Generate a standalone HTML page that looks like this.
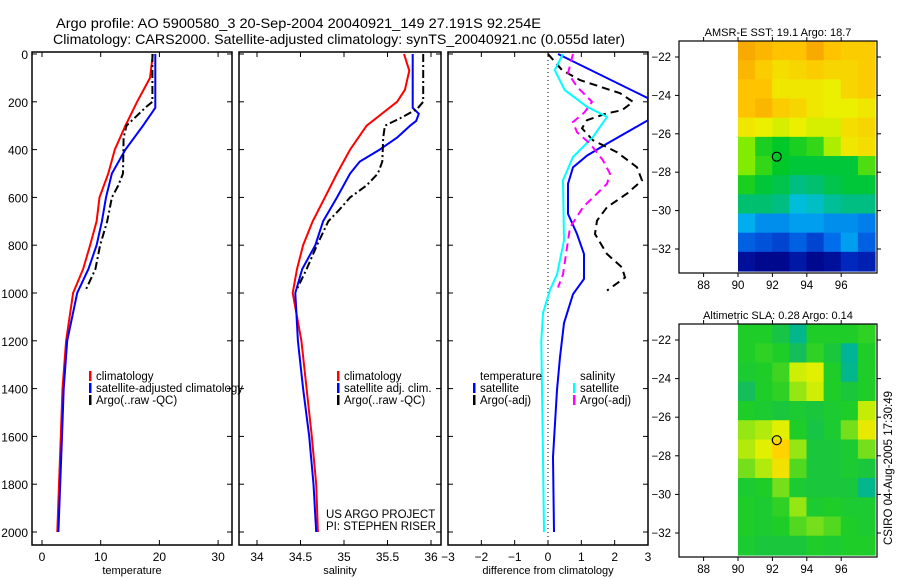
<!DOCTYPE html>
<html><head><meta charset="utf-8"><style>
body{margin:0;background:#fff;}
svg{display:block;font-family:"Liberation Sans",sans-serif;}
text{fill:#000;}
</style></head><body>
<svg id="chart" width="900" height="580" viewBox="0 0 900 580" xmlns="http://www.w3.org/2000/svg">
<text x="56" y="28" font-size="14" textLength="485" lengthAdjust="spacingAndGlyphs">Argo profile: AO 5900580_3 20-Sep-2004 20040921_149 27.191S 92.254E</text>
<text x="53" y="44" font-size="14" textLength="572" lengthAdjust="spacingAndGlyphs">Climatology: CARS2000. Satellite-adjusted climatology: synTS_20040921.nc (0.055d later)</text>
<g id="g"></g>
</svg>
<script>
// ---- data ----
const tClimDepth=[0,100,200,300,400,500,600,700,800,900,1000,1200,1400,1600,1800,2000];
const tClimVal=[18.9,18.4,16.2,14.2,12.4,11.3,9.8,9.3,8.2,7.0,5.3,4.1,3.5,3.2,2.9,2.6];
const tSatDepth=[0,225,300,400,500,600,700,800,900,1000,1200,1400,1600,1800,2000];
const tSatVal=[19.3,19.3,17.2,14.2,11.9,10.9,10.2,9.3,7.9,6.0,4.3,3.7,3.4,3.1,2.8];
const tArgoDepth=[0,200,220,300,350,500,550,600,700,800,900,990];
const tArgoVal=[18.8,18.8,17.8,14.4,13.9,13.8,13.0,11.9,11.1,9.9,9.1,7.4];

const sClimDepth=[0,70,150,200,300,400,500,600,700,800,900,1000,1200,1400,1600,1800,2000];
const sClimVal=[35.69,35.75,35.70,35.61,35.26,35.07,34.92,34.78,34.64,34.53,34.46,34.41,34.51,34.57,34.63,34.68,34.70];
const sSatDepth=[0,225,250,280,300,350,400,450,500,600,700,800,900,1000,1200,1400,1600,1800,2000];
const sSatVal=[35.79,35.79,35.86,35.83,35.76,35.61,35.41,35.18,35.07,34.92,34.76,34.67,34.52,34.44,34.47,34.53,34.60,34.65,34.68];
const sArgoDepth=[0,200,230,270,300,350,450,500,550,600,650,700,800,900,990];
const sArgoVal=[35.91,35.91,35.84,35.64,35.47,35.45,35.44,35.39,35.26,35.07,34.95,34.82,34.69,34.57,34.45];

const dTSatDepth=[0,185,277,375,425,474,543,669,753,837,941,1005,1126,1268,1406,1686,2000];
const dTSatVal=[0.3,3.0,3.0,1.77,1.17,0.75,0.6,0.6,0.87,1.08,1.08,0.75,0.48,0.36,0.27,0.15,0.18];
const dTArgoDepth=[0,67,109,164,200,235,248,277,311,361,411,474,529,584,641,697,753,837,893,935,990];
const dTArgoVal=[0,0.42,0.96,2.16,2.55,2.22,1.77,1.17,1.02,1.35,2.07,2.67,2.82,2.37,1.77,1.47,1.41,1.77,2.22,2.31,1.77];
const dSSatDepth=[0,67,151,221,263,347,431,528,780,922,987,1084,1200,1686,2000];
const dSSatVal=[0.45,0.2,0.5,1.17,1.77,1.35,0.75,0.45,0.48,0.27,0.06,-0.15,-0.2,-0.15,-0.12];
const dSArgoDepth=[0,80,137,200,243,285,327,375,445,501,543,641,726,810,922,977];
const dSArgoVal=[0.75,0.6,0.87,1.32,1.1,0.75,0.87,1.26,1.65,1.86,1.77,1.05,0.66,0.57,0.45,0.3];

const depthTicks=[0,200,400,600,800,1000,1200,1400,1600,1800,2000];
const tempTicks=[0,10,20,30];
const salTicks=[34,34.5,35,35.5,36];
const diffTicks=[-3,-2,-1,0,1,2,3];
const latTicks=[-22,-24,-26,-28,-30,-32];
const lonTicks=[88,90,92,94,96];

const sstGrid=[
[20.2,20.1,20.0,20.0,20.2,20.0,19.9,19.9],
[20.1,19.9,19.7,19.8,19.9,19.8,19.8,19.9],
[20.0,20.0,19.6,19.6,19.6,19.5,19.8,19.9],
[20.0,20.1,19.9,19.8,19.6,19.5,19.5,19.6],
[19.6,19.5,19.4,19.5,19.4,19.4,19.7,19.8],
[19.0,18.6,18.5,18.6,18.7,19.2,19.6,19.7],
[19.0,18.7,18.5,18.4,18.4,18.4,18.4,18.8],
[18.6,18.4,18.3,18.0,18.1,18.3,18.4,18.4],
[18.1,18.1,18.0,17.6,17.7,17.9,18.0,18.0],
[17.4,17.2,17.2,17.3,17.3,17.2,17.2,17.1],
[16.9,16.8,16.7,16.9,16.7,17.0,17.3,16.9],
[16.2,16.1,16.1,16.3,16.1,16.2,16.5,16.4]];
const slaGrid=[
[.05,.05,.02,-.05,.05,.05,.05,.06],
[.05,.06,.05,.0,.06,.03,-.06,.05],
[.04,.05,.07,.18,.2,.05,-.05,.05],
[.0,.05,.06,.12,.18,.05,.03,.05],
[.05,.04,.03,.04,.03,.04,.05,.17],
[.12,.15,.2,.05,.02,.04,.1,.22],
[.15,.2,.3,.12,.03,.03,.04,.1],
[.1,.15,.25,.08,.03,.03,.04,.03],
[.04,.05,.1,.04,.03,.03,.03,-.05],
[.05,.04,.06,.12,.04,.05,.04,.04],
[.05,.04,.05,.08,.1,.08,.05,.04],
[.04,.03,.03,.03,.05,.04,.05,.05]];
const floatLon=92.254, floatLat=-27.191;

// ---- helpers ----
const NS="http://www.w3.org/2000/svg";
const G=document.getElementById('g');
function el(tag,attrs,parent){const e=document.createElementNS(NS,tag);for(const k in attrs)e.setAttribute(k,attrs[k]);(parent||G).appendChild(e);return e;}
const yD=d=>54+d*0.239;
const panels=[
 {name:'temperature',x0:32,x1:232,sx:v=>42+v*5.87,ticks:tempTicks,label:'temperature',lab:v=>String(v)},
 {name:'salinity',x0:239,x1:441,sx:v=>257+(v-34)*87,ticks:salTicks,label:'salinity',lab:v=>String(v)},
 {name:'difference',x0:448,x1:648,sx:v=>548+v*33.33,ticks:diffTicks,label:'difference from climatology',lab:v=>String(v).replace('-','−')}
];
const yTop=52,yBot=545;
panels.forEach((p,i)=>{
  const gp=el('g',{});
  
  
  const cp=el('clipPath',{id:'clip'+i},gp);
  el('rect',{x:p.x0,y:yTop,width:p.x1-p.x0,height:yBot-yTop},cp);
  const fr=el('rect',{x:p.x0,y:yTop,width:p.x1-p.x0,height:yBot-yTop,fill:'none',stroke:'#000','stroke-width':1.5},gp);
  
  
  depthTicks.forEach(d=>{const y=yD(d);
    el('line',{x1:p.x0,x2:p.x0+5,y1:y,y2:y,stroke:'#000'},gp);
    el('line',{x1:p.x1-5,x2:p.x1,y1:y,y2:y,stroke:'#000'},gp);
    if(i===0){const t=el('text',{x:28,y:y+5,'font-size':12,'text-anchor':'end'},gp);t.textContent=d;
      
      }
  });
  p.ticks.forEach(v=>{const x=p.sx(v);
    el('line',{x1:x,x2:x,y1:yTop,y2:yTop+5,stroke:'#000'},gp);
    el('line',{x1:x,x2:x,y1:yBot-5,y2:yBot,stroke:'#000'},gp);
    const t=el('text',{x:x,y:561,'font-size':12,'text-anchor':'middle'},gp);t.textContent=p.lab(v);
    
    
  });
  const al=el('text',{x:(p.x0+p.x1)/2,y:574,'font-size':11,'text-anchor':'middle'},gp);al.textContent=p.label;
  
  
  p.g=el('g',{'clip-path':'url(#clip'+i+')'},gp);
});
function series(pi,depths,vals,color,dash,name){
  const p=panels[pi];
  const pts=depths.map((d,k)=>p.sx(vals[k]).toFixed(1)+','+yD(d).toFixed(1)).join(' ');
  const l=el('polyline',{points:pts,fill:'none',stroke:color,'stroke-width':2,'stroke-dasharray':dash||'none'},p.g);
  
  
}
series(0,tClimDepth,tClimVal,'#f00',null,'temp-climatology-line');
series(0,tSatDepth,tSatVal,'#00f',null,'temp-satellite-line');
series(0,tArgoDepth,tArgoVal,'#000','8,3,2,3','temp-argo-line');
series(1,sClimDepth,sClimVal,'#f00',null,'sal-climatology-line');
series(1,sSatDepth,sSatVal,'#00f',null,'sal-satellite-line');
series(1,sArgoDepth,sArgoVal,'#000','8,3,2,3','sal-argo-line');
const zl=el('line',{x1:panels[2].sx(0),x2:panels[2].sx(0),y1:yTop,y2:yBot,stroke:'#000','stroke-dasharray':'1,3'},panels[2].g);


series(2,dTSatDepth,dTSatVal,'#00f',null,'diff-temp-satellite-line');
series(2,dTArgoDepth,dTArgoVal,'#000','8,5','diff-temp-argo-line');
series(2,dSSatDepth,dSSatVal,'#0ff',null,'diff-sal-satellite-line');
series(2,dSArgoDepth,dSArgoVal,'#f0f','8,5','diff-sal-argo-line');

function legend(name,x,y,items){
  const lg=el('g',{});
  
  
  items.forEach((it,k)=>{const yy=y+k*12;
    if(it[1]){el('rect',{x:x,y:yy-9,width:2.5,height:10,fill:it[1]},lg);}
    const t=el('text',{x:x+7,y:yy,'font-size':11.5},lg);t.textContent=it[0];
    
    
  });
}
legend('temperature-legend',89,380,[['climatology','#f00'],['satellite-adjusted climatology','#00f'],['Argo(..raw -QC)','#000']]);
legend('salinity-legend',337,380,[['climatology','#f00'],['satellite adj. clim.','#00f'],['Argo(..raw -QC)','#000']]);
legend('diff-temp-legend',473,380,[['temperature',null],['satellite','#00f'],['Argo(-adj)','#000']]);
legend('diff-sal-legend',573,380,[['salinity',null],['satellite','#0ff'],['Argo(-adj)','#f0f']]);
const cr1=el('text',{x:326,y:518,'font-size':11.5});cr1.textContent='US ARGO PROJECT';


const cr2=el('text',{x:326,y:530,'font-size':11.5});cr2.textContent='PI: STEPHEN RISER';



// ---- maps ----
function lerpColor(stops,v){
  if(v<=stops[0][0])return stops[0][1];
  for(let k=1;k<stops.length;k++){if(v<=stops[k][0]){const a=stops[k-1],b=stops[k];const f=(v-a[0])/(b[0]-a[0]);
    const c=a[1].map((q,j)=>Math.round(q+(b[1][j]-q)*f));return c;}}
  return stops[stops.length-1][1];
}
const sstStops=[[16.0,[0,0,130]],[16.5,[0,40,190]],[17.0,[0,110,235]],[17.5,[0,190,240]],[18.0,[0,190,130]],[18.5,[0,200,40]],[19.0,[130,235,0]],[19.5,[235,240,0]],[20.0,[255,195,0]],[20.4,[240,145,0]]];
const slaStops=[[-0.06,[0,180,150]],[0.0,[20,190,90]],[0.05,[30,205,40]],[0.12,[150,230,20]],[0.2,[225,240,0]],[0.3,[255,210,0]]];
function drawMap(name,y0,y1,latTickY,latScale,grid,stops,title){
  const mg=el('g',{});
  
  
  const bx0=679,bx1=877;
  const lx=lon=>738+(lon-90)*17.2;
  const ly=lat=>latTickY+(-22-lat)*latScale;
  const rows=grid.length,cols=grid[0].length;
  const cw=(875-738)/cols, ch=(y1-2-y0)/rows;
  grid.forEach((row,r)=>row.forEach((v,c)=>{
    const col=lerpColor(stops,v);
    const cell=el('rect',{x:(738+c*cw).toFixed(2),y:(y0+r*ch).toFixed(2),width:(cw+0.6).toFixed(2),height:(ch+0.6).toFixed(2),fill:'rgb('+col.join(',')+')'},mg);
    
    
  }));
  el('rect',{x:bx0,y:y0,width:bx1-bx0,height:y1-y0,fill:'none',stroke:'#000','stroke-width':1.2},mg);
  latTicks.forEach(l=>{const y=ly(l);
    el('line',{x1:bx0-4,x2:bx0,y1:y,y2:y,stroke:'#000'},mg);
    el('line',{x1:bx1,x2:bx1+4,y1:y,y2:y,stroke:'#000'},mg);
    const t=el('text',{x:bx0-8,y:y+4,'font-size':11.5,'text-anchor':'end'},mg);t.textContent=String(l).replace('-','−');
    
    
  });
  lonTicks.forEach(l=>{const x=lx(l);
    el('line',{x1:x,x2:x,y1:y0-4,y2:y0,stroke:'#000'},mg);
    el('line',{x1:x,x2:x,y1:y1,y2:y1+4,stroke:'#000'},mg);
    const t=el('text',{x:x,y:y1+16,'font-size':11.5,'text-anchor':'middle'},mg);t.textContent=l;
    
    
  });
  const tt=el('text',{x:778,y:y0-5,'font-size':11,'text-anchor':'middle'},mg);tt.textContent=title;
  
  
  const m=el('circle',{cx:lx(floatLon),cy:ly(floatLat),r:4.5,fill:'none',stroke:'#000','stroke-width':1.2},mg);
  
  
}
drawMap('sst-map',41,273,57,19.2,sstGrid,sstStops,'AMSR-E SST: 19.1 Argo: 18.7');
drawMap('sla-map',324,557,340,19.3,slaGrid,slaStops,'Altimetric SLA: 0.28 Argo: 0.14');
const st=el('text',{x:0,y:0,'font-size':11.5,'text-anchor':'middle',transform:'translate(892,468) rotate(-90)'});
st.textContent='CSIRO 04-Aug-2005 17:30:49';


</script>
</body></html>
